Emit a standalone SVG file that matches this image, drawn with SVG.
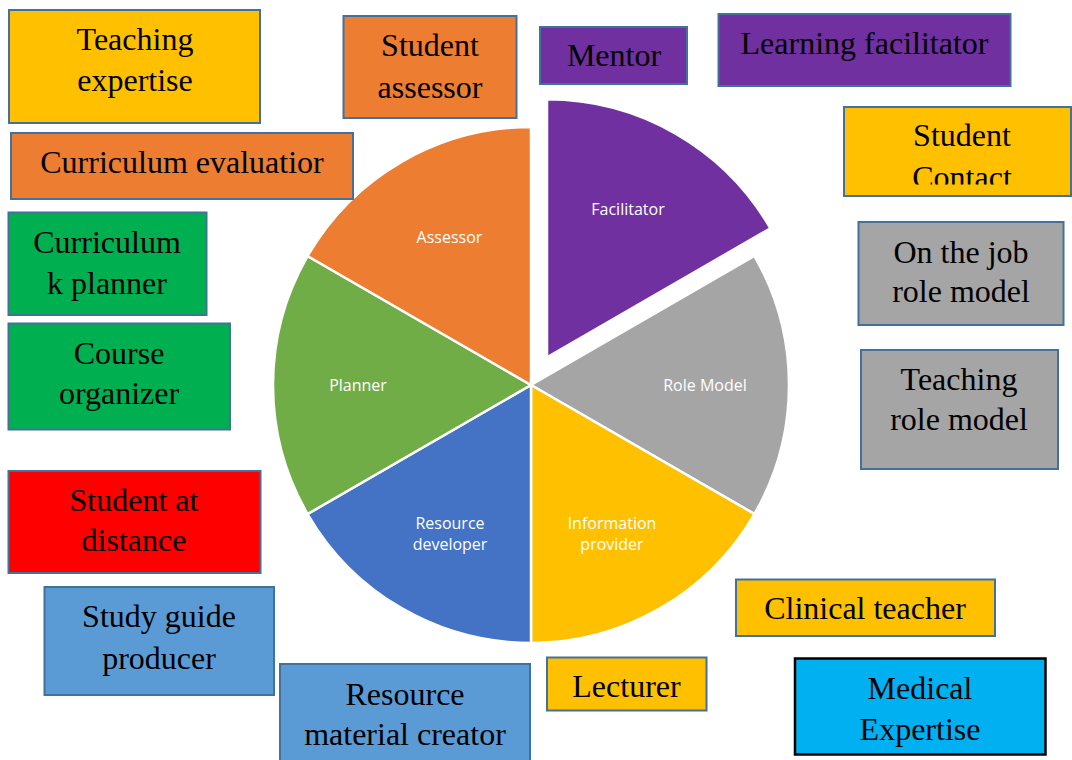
<svg xmlns="http://www.w3.org/2000/svg" width="1072" height="760" viewBox="0 0 1072 760">
  <style>
    .box { stroke: #41719C; stroke-width: 2; }
    .lbl { font-family: "Liberation Serif", "Times New Roman", serif; font-size: 32px; fill: #000; text-anchor: middle; }
    .slice { stroke: #FFFFFF; stroke-width: 2.5; stroke-linejoin: miter; }
    .slbl { font-family: "Open Sans", "Noto Sans", sans-serif; font-size: 16px; fill: #FFFFFF; text-anchor: middle; }
    .orange { fill: #ED7D31; }
    .purple { fill: #7030A0; }
    .gray { fill: #A5A5A5; }
    .yellow { fill: #FFC000; }
    .blue { fill: #4472C4; }
    .green { fill: #70AD47; }
    .bgreen { fill: #00B050; }
    .red { fill: #FF0000; }
    .lblue { fill: #5B9BD5; }
    .cyan { fill: #00B0F0; }
  </style>
  <defs>
    <clipPath id="contactClip">
      <rect x="844" y="107" width="228" height="77.5"/>
    </clipPath>
  </defs>
  <rect width="1072" height="760" fill="#FFFFFF"/>

  <!-- Pie of roles: six 60-degree sectors, Facilitator pulled out -->
  <g id="pie">
    <g id="slice-facilitator">
      <path class="slice purple" d="M547,357.29 L547,99.29 A258,258 0 0 1 770.43,228.29 Z"/>
      <text class="slbl" x="628" y="215">Facilitator</text>
    </g>
    <g id="slice-role-model">
      <path class="slice gray" d="M531,385 L754.43,256 A258,258 0 0 1 754.43,514 Z"/>
      <text class="slbl" x="705" y="391">Role Model</text>
    </g>
    <g id="slice-information-provider">
      <path class="slice yellow" d="M531,385 L754.43,514 A258,258 0 0 1 531,643 Z"/>
      <text class="slbl" x="612" y="529">Information</text>
      <text class="slbl" x="612" y="550">provider</text>
    </g>
    <g id="slice-resource-developer">
      <path class="slice blue" d="M531,385 L531,643 A258,258 0 0 1 307.57,514 Z"/>
      <text class="slbl" x="450" y="529">Resource</text>
      <text class="slbl" x="450" y="550">developer</text>
    </g>
    <g id="slice-planner">
      <path class="slice green" d="M531,385 L307.57,514 A258,258 0 0 1 307.57,256 Z"/>
      <text class="slbl" x="358" y="391">Planner</text>
    </g>
    <g id="slice-assessor">
      <path class="slice orange" d="M531,385 L307.57,256 A258,258 0 0 1 531,127 Z"/>
      <text class="slbl" x="449.5" y="243">Assessor</text>
    </g>
  </g>

  <!-- Role boxes -->
  <g id="teaching-expertise">
    <rect class="box yellow" x="9" y="10" width="251" height="113"/>
    <text class="lbl" x="135" y="50">Teaching</text>
    <text class="lbl" x="135" y="91">expertise</text>
  </g>
  <g id="student-assessor">
    <rect class="box orange" x="343.5" y="16" width="173" height="102"/>
    <text class="lbl" x="430" y="56">Student</text>
    <text class="lbl" x="430" y="98">assessor</text>
  </g>
  <g id="mentor">
    <rect class="box purple" x="540" y="27" width="147" height="57"/>
    <text class="lbl" x="614" y="66">Mentor</text>
  </g>
  <g id="learning-facilitator">
    <rect class="box purple" x="718.5" y="14" width="292" height="72"/>
    <text class="lbl" x="864.5" y="53.5">Learning facilitator</text>
  </g>
  <g id="student-contact">
    <rect class="box yellow" x="844" y="107" width="227" height="89"/>
    <g clip-path="url(#contactClip)">
      <text class="lbl" x="962" y="146">Student</text>
      <text class="lbl" x="962" y="188">Contact</text>
    </g>
  </g>
  <g id="curriculum-evaluatior">
    <rect class="box orange" x="11" y="133" width="342" height="66"/>
    <text class="lbl" x="182" y="172.5">Curriculum evaluatior</text>
  </g>
  <g id="on-the-job-role-model">
    <rect class="box gray" x="858.5" y="222" width="205" height="103"/>
    <text class="lbl" x="961" y="263">On the job</text>
    <text class="lbl" x="961" y="302">role model</text>
  </g>
  <g id="teaching-role-model">
    <rect class="box gray" x="861" y="350" width="197" height="119"/>
    <text class="lbl" x="959" y="390">Teaching</text>
    <text class="lbl" x="959" y="430">role model</text>
  </g>
  <g id="curriculum-planner">
    <rect class="box bgreen" x="8.5" y="212.5" width="198" height="102.5"/>
    <text class="lbl" x="107" y="253">Curriculum</text>
    <text class="lbl" x="107" y="293.5">k planner</text>
  </g>
  <g id="course-organizer">
    <rect class="box bgreen" x="8.5" y="323.5" width="221.5" height="106"/>
    <text class="lbl" x="119" y="363.5">Course</text>
    <text class="lbl" x="119" y="403.5">organizer</text>
  </g>
  <g id="student-at-distance">
    <rect class="box red" x="8.5" y="471" width="252" height="102"/>
    <text class="lbl" x="134" y="511">Student at</text>
    <text class="lbl" x="134" y="551">distance</text>
  </g>
  <g id="study-guide-producer">
    <rect class="box lblue" x="44.5" y="587" width="229.5" height="108"/>
    <text class="lbl" x="159" y="627">Study guide</text>
    <text class="lbl" x="159" y="668.5">producer</text>
  </g>
  <g id="resource-material-creator">
    <rect class="box lblue" x="280" y="664" width="250" height="100"/>
    <text class="lbl" x="405" y="705">Resource</text>
    <text class="lbl" x="405" y="745">material creator</text>
  </g>
  <g id="lecturer">
    <rect class="box yellow" x="547" y="657.5" width="159.5" height="53"/>
    <text class="lbl" x="626.5" y="697">Lecturer</text>
  </g>
  <g id="clinical-teacher">
    <rect class="box yellow" x="736" y="579.5" width="259" height="56.5"/>
    <text class="lbl" x="865" y="618.5">Clinical teacher</text>
  </g>
  <g id="medical-expertise">
    <rect class="cyan" x="795" y="658.5" width="250.5" height="96" stroke="#000000" stroke-width="2.5"/>
    <text class="lbl" x="920" y="698.5">Medical</text>
    <text class="lbl" x="920" y="739.5">Expertise</text>
  </g>

  <!-- No connectors in this chart -->
  <g id="connectors"/>
</svg>
